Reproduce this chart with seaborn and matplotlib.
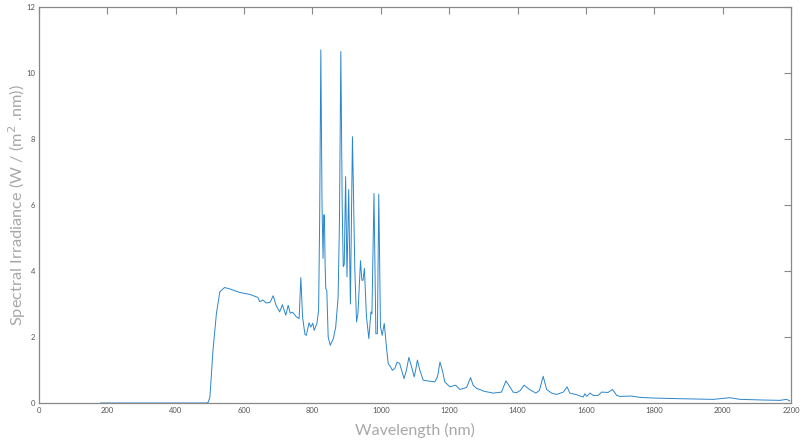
import numpy as np
import pandas as pd
import matplotlib
matplotlib.use('Agg')
import matplotlib.pyplot as plt
import seaborn as sns

# Spectre (longueur d'onde en nm, irradiance en W/(m2.nm))
wavelength = [180, 250, 300, 350, 400, 450, 490, 495, 500, 509, 519, 529, 543, 560, 587, 617,
              640, 646, 655, 665, 676, 685, 694, 704, 712, 722, 729, 735, 742, 753, 761, 766,
              771, 778, 782, 790, 795, 801, 805, 813, 818, 821, 824.5, 828, 831, 833, 835, 837,
              839, 842, 846, 852, 861, 868, 875, 879, 883, 887, 890, 893, 897, 901, 906, 911,
              917, 924, 929, 933, 940.6, 944.5, 948, 952, 958, 965, 971, 974, 980, 985.5,
              990, 994, 999, 1004, 1010, 1017, 1021.5, 1028, 1034, 1041, 1048, 1055, 1062, 1068,
              1075, 1082, 1090, 1097.6, 1102, 1107, 1114, 1124, 1143, 1158, 1166, 1173, 1181,
              1187, 1202, 1219, 1231, 1251, 1262.5, 1270, 1280, 1290, 1300, 1329, 1353, 1366,
              1378, 1387, 1397, 1408, 1419, 1435, 1453.6, 1464, 1475, 1485, 1499.6, 1514, 1534,
              1545, 1553, 1573, 1592, 1597, 1602, 1612, 1621, 1636, 1646, 1665, 1678, 1690, 1700,
              1734, 1758, 1797, 1875, 1973, 2021, 2051, 2119, 2168, 2187, 2197]
irradiance = [0.0, 0.0, 0.0, 0.0, 0.0, 0.0, 0.0, 0.02, 0.18, 1.6, 2.71, 3.37, 3.5, 3.45, 3.35, 3.29,
              3.2, 3.07, 3.12, 3.03, 3.05, 3.25, 2.95, 2.76, 2.98, 2.66, 2.96, 2.72, 2.75, 2.61, 2.56, 3.8,
              2.61, 2.08, 2.05, 2.43, 2.3, 2.42, 2.2, 2.41, 2.81, 5.5, 10.7, 6.0, 4.38, 5.7, 5.7, 4.2,
              3.47, 3.4, 2.0, 1.75, 1.95, 2.3, 3.2, 5.5, 10.65, 6.0, 4.13, 4.2, 6.86, 3.82, 6.47, 3.0,
              8.07, 4.03, 2.46, 2.7, 4.31, 3.72, 3.72, 4.08, 2.61, 1.95, 2.76, 2.7, 6.35, 2.1,
              2.1, 6.33, 2.31, 2.05, 2.41, 1.65, 1.2, 1.1, 0.99, 1.05, 1.24, 1.2, 0.95, 0.74,
              1.0, 1.38, 1.1, 0.79, 1.0, 1.3, 1.0, 0.69, 0.66, 0.64, 0.8, 1.24, 0.95,
              0.64, 0.49, 0.54, 0.41, 0.47, 0.77, 0.54, 0.44, 0.41, 0.36, 0.3, 0.33, 0.67,
              0.48, 0.33, 0.31, 0.38, 0.54, 0.41, 0.3, 0.38, 0.81, 0.41, 0.3, 0.26, 0.33,
              0.49, 0.3, 0.25, 0.18, 0.28, 0.2, 0.3, 0.23, 0.23, 0.33, 0.32, 0.41, 0.23, 0.2,
              0.21, 0.17, 0.15, 0.13, 0.11, 0.16, 0.11, 0.09, 0.08, 0.11, 0.06]

df = pd.DataFrame({'wavelength': wavelength, 'irradiance': irradiance})

sns.set_style('white')
plt.rcParams['font.family'] = ['Lato', 'DejaVu Sans']

fig = plt.figure(figsize=(8.01, 4.45), dpi=100)
ax = fig.add_axes([0.0487, 0.0944, 0.9388, 0.8899])
sns.lineplot(data=df, x='wavelength', y='irradiance', ax=ax, color='#2a86cc', linewidth=0.7)

ax.set_xlim(0, 2200)
ax.set_ylim(0, 12)
ax.set_xticks(np.arange(0, 2201, 200))
ax.set_yticks(np.arange(0, 13, 2))
ax.tick_params(direction='in', length=5, width=0.8, color='#888888', labelsize=5.5,
               labelcolor='#555555', top=True, right=True, pad=3)
for s in ax.spines.values():
    s.set_color('#888888')
    s.set_linewidth(0.9)

ax.set_xlabel('Wavelength (nm)', fontsize=11.5, color='#a8a8a8')
ax.set_ylabel('Spectral Irradiance (W / (m$^2$ .nm))', fontsize=11.8, color='#a8a8a8')
ax.xaxis.set_label_coords(0.5, -0.05)
ax.yaxis.set_label_coords(-0.014, 0.5)

fig.savefig('out.png', dpi=100)
